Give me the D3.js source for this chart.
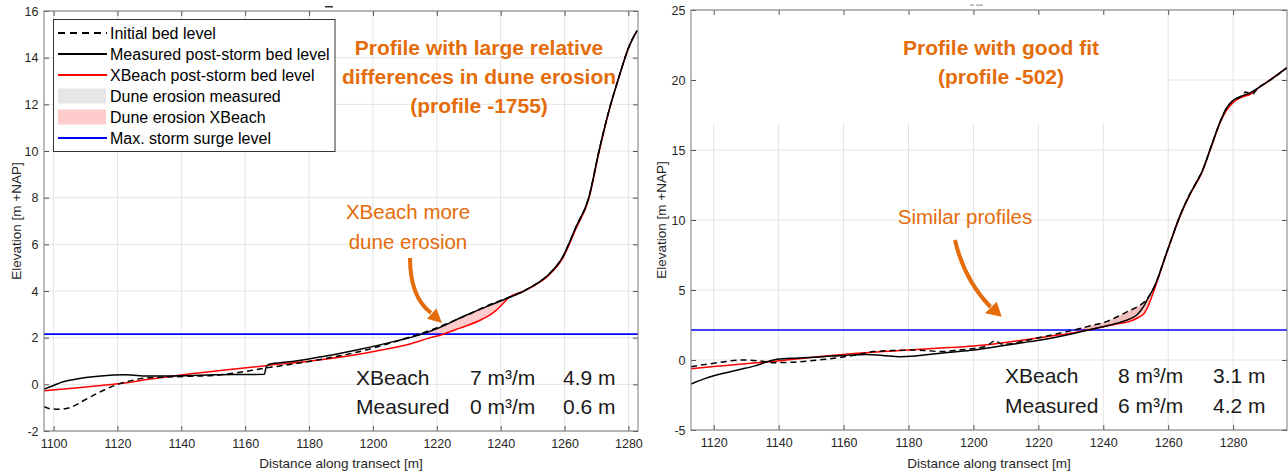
<!DOCTYPE html>
<html><head><meta charset="utf-8">
<script src="https://cdn.jsdelivr.net/npm/d3@7"></script>
<style>
body{margin:0;background:#fff}
svg{display:block}
text{font-family:"Liberation Sans",Arial,Helvetica,sans-serif}
</style>
</head><body>
<svg id="c" width="1288" height="475"></svg>
<script>
// ---------------- DATA ----------------
const leftXTicks = [1100,1120,1140,1160,1180,1200,1220,1240,1260,1280];
const leftYTicks = [-2,0,2,4,6,8,10,12,14,16];
const rightXTicks = [1120,1140,1160,1180,1200,1220,1240,1260,1280];
const rightYTicks = [-5,0,5,10,15,20,25];

const leftSurge = 2.15;
const rightSurge = 2.14;

// profile -1755
const leftInitial = [[1097,-0.96],[1099,-1.05],[1102,-1.07],[1105,-1.0],[1107.5,-0.85],[1110,-0.65],[1113.5,-0.4],[1117,-0.17],[1121,0.04],[1125,0.18],[1128,0.26],[1133,0.3],[1138.7,0.33],[1144,0.35],[1149,0.37],[1155,0.45],[1159.5,0.54],[1163,0.62],[1166,0.69],[1168,0.73],[1174,0.85],[1180,0.98],[1188,1.18],[1196,1.41],[1204,1.71],[1211.6,2.03],[1218,2.32],[1224,2.65],[1230,3.0],[1236,3.38],[1242.6,3.73],[1247,3.98],[1251,4.29],[1255.1,4.72],[1259.3,5.43],[1263.5,6.72],[1267.6,8.01],[1270.8,10.01],[1273.9,11.73],[1277,13.16],[1280.1,14.45],[1282.7,15.16]];
const leftMeasured = [[1097,-0.2],[1100,-0.05],[1103,0.11],[1106,0.2],[1109.5,0.28],[1114,0.35],[1119,0.4],[1122,0.41],[1125,0.39],[1128,0.36],[1134,0.36],[1140.8,0.37],[1146,0.39],[1151,0.41],[1158,0.42],[1166,0.43],[1166.6,0.75],[1167.5,0.86],[1174,0.97],[1180.3,1.1],[1188,1.28],[1196,1.5],[1206.4,1.83],[1214.7,2.12],[1220.7,2.42],[1229.1,2.96],[1237.4,3.43],[1242.6,3.72],[1247,3.98],[1251,4.29],[1255.1,4.72],[1259.3,5.43],[1263.5,6.72],[1267.6,8.01],[1270.8,10.01],[1273.9,11.73],[1277,13.16],[1280.1,14.45],[1282.7,15.16]];
const leftXBeach = [[1097,-0.27],[1105,-0.18],[1113,-0.07],[1121,0.04],[1131,0.24],[1141.8,0.43],[1153,0.6],[1165.7,0.79],[1180.3,1.0],[1196,1.3],[1204,1.5],[1211.6,1.73],[1217,1.96],[1222,2.15],[1226,2.35],[1229.1,2.5],[1234.2,2.79],[1238.4,3.15],[1241,3.5],[1242.6,3.72],[1247,3.98],[1251,4.27],[1255.1,4.68],[1259.3,5.38],[1263.5,6.65],[1267.6,7.95],[1270.8,9.95],[1273.9,11.7],[1277,13.14],[1280.1,14.44],[1282.7,15.16]];

// profile -502
const rightInitial = [[1113,-0.48],[1117,-0.33],[1122,-0.17],[1128.2,0.0],[1134.4,-0.07],[1138.5,-0.19],[1142,-0.18],[1146.7,-0.12],[1152,0.0],[1157,0.12],[1163.1,0.33],[1169.3,0.6],[1175,0.67],[1181.6,0.71],[1186,0.66],[1189.9,0.6],[1195,0.7],[1200,0.82],[1204,1.0],[1206.8,1.38],[1208.5,1.15],[1210.4,1.14],[1215.5,1.36],[1220.7,1.62],[1225.8,1.88],[1230.9,2.14],[1236,2.44],[1241.2,2.76],[1245.3,3.2],[1247.4,3.45],[1250.5,3.8],[1252.5,4.12],[1255.6,5.17],[1259.7,7.79],[1263.8,10.4],[1266.9,11.95],[1268.7,12.7],[1270.5,13.5],[1273.1,15.17],[1276.1,17.07],[1278,18.0],[1279.8,18.5],[1282,18.75],[1284,19.15],[1285.6,18.95],[1288,19.5],[1289.5,19.7],[1296.9,20.93]];
const rightMeasured = [[1113,-1.71],[1117,-1.35],[1120,-1.12],[1123.1,-0.95],[1128,-0.68],[1133,-0.4],[1137.5,-0.05],[1139.5,0.05],[1146,0.14],[1153.9,0.24],[1160,0.33],[1167.3,0.4],[1172,0.33],[1177.5,0.24],[1181,0.27],[1184.7,0.36],[1192.9,0.55],[1200.1,0.71],[1205,0.88],[1210.4,1.07],[1215.5,1.25],[1220.7,1.43],[1225.8,1.65],[1230.9,1.9],[1236,2.18],[1241.2,2.45],[1245.3,2.7],[1248.4,2.95],[1250.5,3.25],[1252.5,3.85],[1254,4.5],[1255.6,5.17],[1259.7,7.79],[1263.8,10.4],[1266.9,11.95],[1268.7,12.7],[1270.5,13.5],[1273.1,15.17],[1276.1,17.07],[1278,18.0],[1279.8,18.5],[1285.4,19.1],[1289.5,19.7],[1296.9,20.93]];
const rightXBeach = [[1113,-0.62],[1120,-0.47],[1128,-0.3],[1137.5,-0.12],[1150,0.18],[1164.2,0.48],[1180,0.72],[1190,0.85],[1200.1,1.0],[1208,1.2],[1215.5,1.43],[1223,1.68],[1230.9,1.95],[1236,2.18],[1241.2,2.43],[1245,2.6],[1248.4,2.78],[1250.5,3.0],[1252.6,3.33],[1254,3.95],[1255.6,4.95],[1257,5.9],[1259.7,7.75],[1263.8,10.35],[1266.9,11.9],[1270.5,13.45],[1273.1,15.1],[1276.1,17.0],[1278,17.85],[1279.8,18.35],[1283,18.8],[1285.4,19.0],[1287,19.3],[1289.5,19.7],[1296.9,20.93]];

const legendLabels = ["Initial bed level","Measured post-storm bed level","XBeach post-storm bed level","Dune erosion measured","Dune erosion XBeach","Max. storm surge level"];
const leftTitle = ["Profile with large relative","differences in dune erosion","(profile -1755)"];
const rightTitle = ["Profile with good fit","(profile -502)"];
const leftNote = ["XBeach more","dune erosion"];
const rightNote = ["Similar profiles"];
const statRows = ["XBeach","Measured"];
const leftVolumes = [7,0];
const leftRetreat = ["4.9","0.6"];
const rightVolumes = [8,6];
const rightRetreat = ["3.1","4.2"];
const xLabel = "Distance along transect [m]";
const yLabel = "Elevation [m +NAP]";

// ---------------- DRAWING ----------------
const ORANGE = "#e46c0a";
const svg = d3.select("#c");
const defs = svg.append("defs");
let clipId = 0;

function panel(o){
  const x = d3.scaleLinear().domain(o.xDom).range([o.x0,o.x1]);
  const y = d3.scaleLinear().domain(o.yDom).range([o.y1,o.y0]);
  const g = svg.append("g");
  // grid
  g.append("g").selectAll("line").data(o.xTicks).join("line")
    .attr("x1",d=>x(d)).attr("x2",d=>x(d)).attr("y1",o.y0).attr("y2",o.y1)
    .attr("stroke","#e4e4e4").attr("stroke-width",1);
  g.append("g").selectAll("line").data(o.yTicks).join("line")
    .attr("y1",d=>y(d)).attr("y2",d=>y(d)).attr("x1",o.x0).attr("x2",o.x1)
    .attr("stroke","#e4e4e4").attr("stroke-width",1);
  if(o.mask){
    o.mask.forEach(m=>g.append("rect").attr("x",m[0]).attr("y",m[1]).attr("width",m[2]).attr("height",m[3]).attr("fill","#fff"));
  }
  // clip for plot
  const pc = "pc"+(clipId++);
  defs.append("clipPath").attr("id",pc).append("rect")
    .attr("x",o.x0).attr("y",o.y0).attr("width",o.x1-o.x0).attr("height",o.y1-o.y0);
  const plot = g.append("g").attr("clip-path",`url(#${pc})`);

  // fills: below initial, above profile, above surge
  const surgeClip = "sc"+(clipId++);
  defs.append("clipPath").attr("id",surgeClip).append("rect")
    .attr("x",o.x0).attr("y",o.y0).attr("width",o.x1-o.x0).attr("height",y(o.surge)-o.y0);
  const above = (data)=>d3.area().x(d=>x(d[0])).y0(o.y0-50).y1(d=>y(d[1])).curve(d3.curveMonotoneX)(data);
  const belowInit = d3.area().x(d=>x(d[0])).y0(d=>y(d[1])).y1(o.y1+50).curve(d3.curveMonotoneX)(o.initial);
  const amC = "am"+(clipId++);
  defs.append("clipPath").attr("id",amC).append("path").attr("d",above(o.measured));
  const axC = "ax"+(clipId++);
  defs.append("clipPath").attr("id",axC).append("path").attr("d",above(o.xbeach));
  const fg = plot.append("g").attr("clip-path",`url(#${surgeClip})`);
  fg.append("path").attr("d",belowInit).attr("clip-path",`url(#${amC})`).attr("fill","#e3e3e3");
  fg.append("path").attr("d",belowInit).attr("clip-path",`url(#${axC})`).attr("fill","#ff9999").attr("fill-opacity",0.5);

  // surge
  plot.append("line").attr("x1",o.x0).attr("x2",o.x1).attr("y1",y(o.surge)).attr("y2",y(o.surge))
    .attr("stroke","#0000ff").attr("stroke-width",1.6);
  const line = d3.line().x(d=>x(d[0])).y(d=>y(d[1])).curve(d3.curveMonotoneX);
  plot.append("path").attr("d",line(o.xbeach)).attr("fill","none").attr("stroke","#ff0000").attr("stroke-width",1.5);
  plot.append("path").attr("d",line(o.measured)).attr("fill","none").attr("stroke","#000").attr("stroke-width",1.5);
  plot.append("path").attr("d",line(o.initial)).attr("fill","none").attr("stroke","#000").attr("stroke-width",1.5).attr("stroke-dasharray","6,4");

  // axes
  const fmt = d=>String(d);
  const styleAx = sel=>{
    sel.select(".domain").remove();
    sel.attr("font-size",12.5).attr("font-family",'"Liberation Sans",Arial,sans-serif');
    sel.selectAll("text").attr("fill","#262626");
    sel.selectAll("line").attr("stroke","#555");
  };
  g.append("g").attr("transform",`translate(0,${o.y1})`)
    .call(d3.axisBottom(x).tickValues(o.xTicks).tickSizeInner(-5).tickSizeOuter(0).tickPadding(8.5).tickFormat(fmt)).call(styleAx);
  g.append("g").attr("transform",`translate(0,${o.y0})`)
    .call(d3.axisTop(x).tickValues(o.xTicks).tickSizeInner(-5).tickSizeOuter(0).tickFormat("")).call(styleAx);
  g.append("g").attr("transform",`translate(${o.x0},0)`)
    .call(d3.axisLeft(y).tickValues(o.yTicks).tickSizeInner(-5).tickSizeOuter(0).tickPadding(5.5).tickFormat(fmt)).call(styleAx);
  g.append("g").attr("transform",`translate(${o.x1},0)`)
    .call(d3.axisRight(y).tickValues(o.yTicks).tickSizeInner(-5).tickSizeOuter(0).tickFormat("")).call(styleAx);
  g.append("rect").attr("x",o.x0).attr("y",o.y0).attr("width",o.x1-o.x0).attr("height",o.y1-o.y0)
    .attr("fill","none").attr("stroke","#7a7a7a").attr("stroke-width",1);

  // axis labels
  g.append("text").attr("x",(o.x0+o.x1)/2).attr("y",463).attr("text-anchor","middle")
    .attr("dominant-baseline","central").attr("font-size",13.5).attr("fill","#262626").text(xLabel);
  g.append("text").attr("transform",`translate(${o.ylx},${(o.y0+o.y1)/2}) rotate(-90)`).attr("text-anchor","middle")
    .attr("dominant-baseline","central").attr("font-size",13.5).attr("fill","#262626").text(yLabel);

  // stats
  const st = g.append("g").attr("font-size",21).attr("fill","#1a1a1a");
  statRows.forEach((r,i)=>{
    const yy = o.statY[i];
    st.append("text").attr("x",o.statX[0]).attr("y",yy).attr("dominant-baseline","central").text(r);
    st.append("text").attr("x",o.statX[1]).attr("y",yy).attr("dominant-baseline","central").text(o.vol[i]+" m\u00b3/m");
    st.append("text").attr("x",o.statX[2]).attr("y",yy).attr("dominant-baseline","central").text(o.ret[i]+" m");
  });

  // title
  const tg = g.append("g").attr("font-size",21).attr("font-weight","bold").attr("fill",ORANGE).attr("text-anchor","middle");
  o.title.forEach((t,i)=>tg.append("text").attr("x",o.titleX).attr("y",47+i*29).attr("dominant-baseline","central").text(t));
  // note
  const ng = g.append("g").attr("font-size",20.5).attr("fill",ORANGE).attr("text-anchor","middle");
  o.note.forEach((t,i)=>ng.append("text").attr("x",o.noteX).attr("y",o.noteY+i*30).attr("dominant-baseline","central").text(t));
  // arrow
  g.append("path").attr("d",o.arrow).attr("fill","none").attr("stroke",ORANGE).attr("stroke-width",4);
  g.append("path").attr("d",o.head).attr("fill",ORANGE);
  return {x,y};
}

panel({x0:44,x1:638,y0:11,y1:431,xDom:[1097,1283],yDom:[-2,16],xTicks:leftXTicks,yTicks:leftYTicks,
  initial:leftInitial,measured:leftMeasured,xbeach:leftXBeach,surge:leftSurge,ylx:16,
  statX:[356,470,563],statY:[377,406],vol:leftVolumes,ret:leftRetreat,
  title:leftTitle,titleX:479,note:leftNote,noteX:408,noteY:211,
  arrow:"M410,258 C410,287 418,303 431,313",head:"M442,323 L427,318.7 L436.4,308.4 Z"});

panel({x0:691,x1:1287,y0:10,y1:430,xDom:[1113,1296.6],yDom:[-5,25],xTicks:rightXTicks,yTicks:rightYTicks,
  initial:rightInitial,measured:rightMeasured,xbeach:rightXBeach,surge:rightSurge,ylx:661,
  statX:[1005,1118,1213],statY:[375,405],vol:rightVolumes,ret:rightRetreat,
  title:rightTitle,titleX:1001,note:rightNote,noteX:965,noteY:216,
  mask:[[692,11,475,112]],
  arrow:"M955,240 C961,266 972,288 990.5,307",head:"M1001.7,316.7 L985,313.3 L996.7,301.7 Z"});

// legend
const lg = svg.append("g");
lg.append("rect").attr("x",53.5).attr("y",19.5).attr("width",281.5).attr("height",132).attr("fill","#fff").attr("stroke","#333").attr("stroke-width",1);
const ly = [33,54,75,96,117,138];
const styles = [
  {t:"line",c:"#000",d:"7,5"},{t:"line",c:"#000"},{t:"line",c:"#ff0000"},
  {t:"rect",c:"#e6e6e6"},{t:"rect",c:"#ffcccc"},{t:"line",c:"#0000ff"}];
legendLabels.forEach((lab,i)=>{
  const s = styles[i];
  if(s.t==="line"){
    const l = lg.append("line").attr("x1",58).attr("x2",107).attr("y1",ly[i]).attr("y2",ly[i]).attr("stroke",s.c).attr("stroke-width",1.8);
    if(s.d) l.attr("stroke-dasharray",s.d);
  } else {
    lg.append("rect").attr("x",58).attr("y",ly[i]-7.5).attr("width",48).attr("height",15).attr("fill",s.c);
  }
  lg.append("text").attr("x",110).attr("y",ly[i]).attr("dominant-baseline","central").attr("font-size",16).attr("fill","#000").text(lab);
});

// small clipped remnants at the top
svg.append("rect").attr("x",325).attr("y",6).attr("width",8).attr("height",1.5).attr("fill","#333");
svg.append("rect").attr("x",970).attr("y",4.5).attr("width",4).attr("height",1.2).attr("fill","#999");
svg.append("rect").attr("x",976).attr("y",4.5).attr("width",7).attr("height",1.2).attr("fill","#999");
</script>
</body></html>
